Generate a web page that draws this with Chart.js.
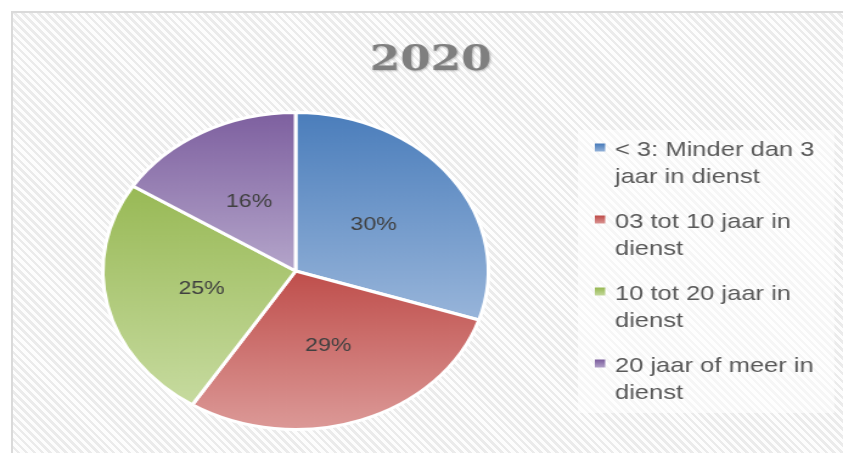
<!DOCTYPE html>
<html>
<head>
<meta charset="utf-8">
<script src="https://cdn.jsdelivr.net/npm/chart.js@4.4.1/dist/chart.umd.min.js"></script>
<style>
  html, body { margin: 0; padding: 0; background: #ffffff; overflow: hidden; }
  #wrap { position: absolute; left: 0; top: 0; width: 843px; height: 453px; background: #ffffff; }
  #bg { position: absolute; left: 11px; top: 11px; right: 0; bottom: 0;
        border-left: 2px solid #dadada; border-top: 2px solid #dadada;
        background: repeating-linear-gradient(45deg, #fdfdfd 0px, #fdfdfd 3px, #ebebeb 3px, #ebebeb 5.6px); }
  #c { position: absolute; left: 0; top: 0; width: 693px; height: 453px;
       transform: scaleX(1.21645); transform-origin: 0 0; }
</style>
</head>
<body>
<div id="wrap">
  <div id="bg"></div>
  <canvas id="c" width="693" height="453"></canvas>
</div>
<script>
// ---- data ----
const chartTitle = "2020";
const categories = [
  "< 3: Minder dan 3 jaar in dienst",
  "03 tot 10 jaar in dienst",
  "10 tot 20 jaar in dienst",
  "20 jaar of meer in dienst"
];
const values = [30, 29, 25, 16];
const topColors = ["#4a7dbb", "#bf4e4b", "#98b955", "#7d5f9f"];
const bottomColors = ["#98b5da", "#dc9a98", "#c7dba0", "#b4a5ca"];

function sliceGradient(ctx) {
  const i = ctx.dataIndex;
  if (ctx.type !== 'data' || i === undefined) return topColors[0];
  const chart = ctx.chart;
  const ca = chart.chartArea;
  if (!ca) return topColors[i];
  const cy = (ca.top + ca.bottom) / 2;
  const r = Math.min(ca.right - ca.left, ca.bottom - ca.top) / 2;
  const total = values.reduce((a, b) => a + b, 0);
  let cum = 0;
  for (let k = 0; k < i; k++) cum += values[k];
  const a0 = -Math.PI / 2 + 2 * Math.PI * cum / total;
  const a1 = a0 + 2 * Math.PI * values[i] / total;
  const ys = [cy, cy + r * Math.sin(a0), cy + r * Math.sin(a1)];
  if (a0 <= Math.PI / 2 && a1 >= Math.PI / 2) ys.push(cy + r);
  if (a0 <= 1.5 * Math.PI && a1 >= 1.5 * Math.PI) ys.push(cy - r);
  const y0 = Math.min(...ys), y1 = Math.max(...ys);
  const g = chart.ctx.createLinearGradient(0, y0, 0, y1);
  g.addColorStop(0, topColors[i]);
  g.addColorStop(1, bottomColors[i]);
  return g;
}

const decorPlugin = {
  id: 'decor',
  afterDatasetsDraw(chart) {
    const c = chart.ctx;
    // slice percentage labels
    const meta = chart.getDatasetMeta(0);
    c.save();
    c.font = '19px "Liberation Sans", Arial, sans-serif';
    c.fillStyle = '#404040';
    c.textAlign = 'center';
    c.textBaseline = 'middle';
    meta.data.forEach((arc, i) => {
      const p = arc.tooltipPosition();
      c.fillText(values[i] + '%', p.x, p.y);
    });
    c.restore();
  },
  afterDraw(chart) {
    const c = chart.ctx;
    // title
    c.save();
    c.font = 'bold 36px "DejaVu Serif", serif';
    c.fillStyle = '#7f7f7f';
    c.textAlign = 'center';
    c.textBaseline = 'alphabetic';
    c.shadowColor = 'rgba(0,0,0,0.25)';
    c.shadowOffsetX = 1;
    c.shadowOffsetY = 1;
    c.shadowBlur = 2;
    c.fillText(chartTitle, 354, 70);
    c.restore();

    // legend
    c.save();
    c.fillStyle = 'rgba(255,255,255,0.55)';
    c.fillRect(475, 130, 211, 283);
    c.font = '21px "Liberation Sans", Arial, sans-serif';
    c.textBaseline = 'alphabetic';
    c.textAlign = 'left';
    const textX = 505.5;
    const maxW = 176;
    const firstBase = 156;
    const lineH = 27;
    const entryH = 72;
    categories.forEach((label, i) => {
      const base = firstBase + i * entryH;
      const g = c.createLinearGradient(0, base - 12, 0, base - 4);
      g.addColorStop(0, topColors[i]);
      g.addColorStop(1, bottomColors[i]);
      c.fillStyle = g;
      c.fillRect(489, base - 12.5, 8.5, 8);
      // wrap
      const words = label.split(' ');
      const lines = [];
      let cur = '';
      words.forEach(w => {
        const t = cur ? cur + ' ' + w : w;
        if (c.measureText(t).width > maxW && cur) { lines.push(cur); cur = w; }
        else cur = t;
      });
      if (cur) lines.push(cur);
      c.fillStyle = '#595959';
      lines.forEach((ln, j) => c.fillText(ln, textX, base + j * lineH));
    });
    c.restore();
  }
};

new Chart(document.getElementById('c'), {
  type: 'pie',
  data: {
    labels: categories,
    datasets: [{
      data: values,
      backgroundColor: sliceGradient,
      borderColor: '#ffffff',
      borderWidth: 3
    }]
  },
  options: {
    responsive: false,
    animation: false,
    events: [],
    layout: { padding: { left: 83, right: 290, top: 111, bottom: 22 } },
    plugins: {
      legend: { display: false },
      title: { display: false },
      tooltip: { enabled: false }
    }
  },
  plugins: [decorPlugin]
});
</script>
</body>
</html>
